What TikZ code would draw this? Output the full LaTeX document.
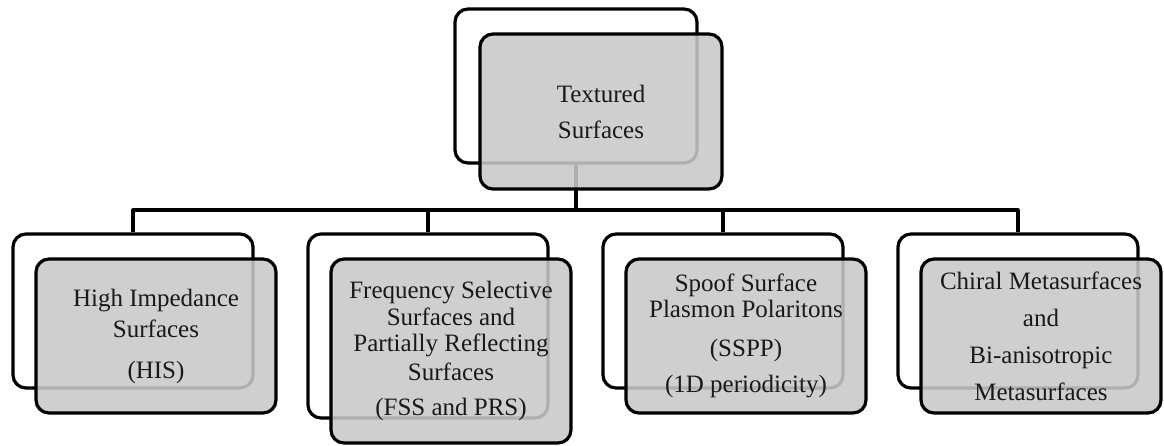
\documentclass[tikz,border=0pt]{standalone}
\usepackage{fontspec}
\setmainfont{Liberation Serif}
\definecolor{boxgray}{gray}{0.79}
\definecolor{txt}{gray}{0.1}
\begin{document}
\begin{tikzpicture}[x=1pt,y=-1pt,
  backbox/.style={draw=black, line width=3.2pt, rounded corners=13pt, fill=white, minimum width=242pt, inner sep=0pt},
  graybox/.style={draw=black, line width=3.2pt, rounded corners=13pt, fill=boxgray, fill opacity=0.875, minimum width=242pt, inner sep=0pt},
  label/.style={align=center, text=txt, font=\fontsize{25}{26}\selectfont, inner sep=0pt},
  conn/.style={line width=3.2pt, line join=round}]
\useasboundingbox (0,0) rectangle (1164,445);
\fill[white] (0,0) rectangle (1164,445);
% top
\node[backbox, minimum height=154pt] (tb) at (576,86) {};
\coordinate (bus) at (576,210);
\draw[conn] (tb.south) -- (tb.south |- bus);
% bottom back boxes
\node[backbox, minimum width=240pt, minimum height=154pt] (b1) at (133,311) {};
\node[backbox, minimum width=240pt, minimum height=184pt] (b2) at (428,326) {};
\node[backbox, minimum width=240pt, minimum height=154pt] (b3) at (723,311) {};
\node[backbox, minimum width=240pt, minimum height=154pt] (b4) at (1018,311) {};
\draw[conn] (b1.north) -- (b1.north |- bus) -- (b4.north |- bus) -- (b4.north);
\draw[conn] (b2.north |- bus) -- (b2.north);
\draw[conn] (b3.north |- bus) -- (b3.north);
% gray boxes
\node[graybox, minimum height=155pt] (tg) at (601,111.5) {};
\node[graybox, minimum width=240pt, minimum height=154pt] (g1) at (156,336) {};
\node[graybox, minimum width=240pt, minimum height=184pt] (g2) at (451,351) {};
\node[graybox, minimum width=240pt, minimum height=154pt] (g3) at (746,336) {};
\node[graybox, minimum width=240pt, minimum height=154pt] (g4) at (1041,336) {};
% labels
\node[label] (t0) at (tg.center) {Textured\\[10pt]Surfaces};
\node[label] (t1) at (g1.center) {High Impedance\\[5pt]Surfaces\\[15pt](HIS)};
\node[label] (t2) at (g2.center) {Frequency Selective\\[1pt]Surfaces and\\Partially Reflecting\\[3pt]Surfaces\\[9pt](FSS and PRS)};
\node[label] (t3) at (g3.center) {Spoof Surface\\Plasmon Polaritons\\[13pt](SSPP)\\[10pt](1D periodicity)};
\node[label] (t4) at (g4.center) {Chiral Metasurfaces\\[11pt]and\\[11pt]Bi-anisotropic\\[11pt]Metasurfaces};
\end{tikzpicture}
\end{document}
